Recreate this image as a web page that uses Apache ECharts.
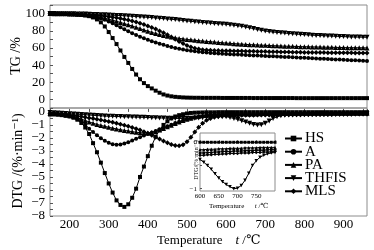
<!DOCTYPE html>
<html><head><meta charset="utf-8">
<script src="https://cdn.jsdelivr.net/npm/echarts@6/dist/echarts.min.js"></script>
<style>html,body{margin:0;padding:0;background:#fff}#c{width:374px;height:250px}</style>
</head><body><div id="c"></div>
<script>
// Temperatures (°C)
var temps = [150,160,170,180,190,200,210,220,230,240,250,260,270,280,290,300,310,320,330,340,350,360,370,380,390,400,410,420,430,440,450,460,470,480,490,500,510,520,530,540,550,
560,570,580,590,600,610,620,630,640,650,660,670,680,690,700,710,720,730,740,750,760,770,780,790,800,810,820,830,840,850,860,870,880,890,900,910,920,930,940,950,960];
var seriesNames = ['HS','A','PA','THFIS','MLS'];
// TG (%)
var tgHS = [100,99.9,99.8,99.7,99.5,99.3,99.1,98.8,98.4,97.9,97.0,95.5,93.2,89.8,85.0,78.5,71.5,64.5,57.0,49.5,42.5,35.5,29.0,23.5,19.0,15.5,12.8,10.2,7.8,5.8,4.5,3.6,3.0,2.6,2.3,2.1,2.0,1.9,1.9,1.8,1.8,
1.8,1.8,1.8,1.7,1.7,1.7,1.7,1.7,1.7,1.7,1.7,1.6,1.6,1.6,1.6,1.6,1.6,1.6,1.6,1.6,1.6,1.6,1.5,1.5,1.5,1.5,1.5,1.5,1.5,1.5,1.5,1.5,1.5,1.5,1.5,1.5,1.5,1.5,1.5,1.5,1.5];
var tgA = [100,99.9,99.8,99.7,99.6,99.5,99.3,99.1,98.8,98.4,97.8,97.0,95.9,94.5,92.8,90.8,88.6,86.3,84.0,81.7,79.4,77.2,75.1,73.1,71.2,69.4,67.8,66.3,64.9,63.6,62.3,61.1,60.0,59.0,58.1,57.3,56.6,56.0,55.5,55.0,54.6,
54.2,53.9,53.6,53.3,53.0,52.7,52.4,52.2,52.0,51.8,51.5,51.3,51.1,50.9,50.6,50.4,50.2,50.0,49.7,49.5,49.3,49.1,48.8,48.6,48.4,48.2,47.9,47.7,47.5,47.3,47.0,46.8,46.6,46.4,46.1,45.9,45.7,45.5,45.2,45.0,44.8];
var tgPA = [100,99.9,99.9,99.8,99.7,99.6,99.4,99.2,98.9,98.5,98.0,97.3,96.5,95.6,94.6,93.5,92.3,91.0,89.7,88.3,86.9,85.5,84.0,82.5,81.0,79.5,78.1,76.8,75.6,74.5,73.5,72.6,71.8,71.1,70.5,69.9,69.4,68.9,68.4,68.0,67.6,
67.2,66.8,66.4,66.0,65.6,65.3,65.0,64.7,64.4,64.1,63.8,63.6,63.4,63.2,63.0,62.8,62.6,62.4,62.2,62.0,61.9,61.8,61.7,61.5,61.4,61.3,61.2,61.1,61.0,60.9,60.8,60.7,60.6,60.5,60.4,60.3,60.3,60.2,60.2,60.1,60.0];
var tgTHFIS = [100,100,99.9,99.9,99.8,99.8,99.7,99.6,99.5,99.4,99.2,99.0,98.8,98.6,98.5,98.3,98.1,97.9,97.7,97.5,97.2,96.9,96.6,96.3,96.0,95.7,95.4,95.0,94.6,94.2,93.8,93.4,93.0,92.5,92.0,91.5,91.0,90.5,90.1,89.7,89.3,
88.9,88.5,88.2,87.9,87.6,87.0,86.5,85.9,85.2,84.4,83.5,82.5,81.5,80.5,79.7,79.0,78.5,78.1,77.7,77.3,76.9,76.5,76.1,75.8,75.5,75.2,74.9,74.6,74.4,74.2,74.0,73.8,73.6,73.4,73.2,73.0,72.8,72.7,72.6,72.5,72.4];
var tgMLS = [100,99.9,99.9,99.8,99.7,99.6,99.5,99.3,99.1,98.9,98.6,98.3,97.9,97.5,97.0,96.4,95.8,95.1,94.3,93.4,92.4,91.3,90.1,88.7,87.2,85.6,83.8,81.9,79.8,77.6,75.2,72.7,70.2,67.6,65.1,62.9,61.1,59.7,58.7,58.0,57.5,
57.2,57.0,56.9,56.8,56.7,56.6,56.5,56.4,56.3,56.2,56.1,56.0,55.9,55.8,55.7,55.6,55.5,55.4,55.3,55.2,55.1,55.0,54.9,54.9,54.8,54.8,54.7,54.7,54.6,54.6,54.5,54.5,54.4,54.4,54.3,54.3,54.3,54.2,54.2,54.2,54.1];
// DTG (%/min)
var dtgHS = [-0.2,-0.2,-0.22,-0.25,-0.3,-0.35,-0.45,-0.6,-0.85,-1.2,-1.7,-2.4,-3.1,-3.9,-4.7,-5.5,-6.2,-6.8,-7.15,-7.3,-7.1,-6.6,-5.9,-5.0,-4.2,-3.4,-2.6,-1.9,-1.4,-1.0,-0.72,-0.5,-0.35,-0.25,-0.18,-0.12,-0.08,-0.06,-0.05,-0.04,-0.03,
-0.03,-0.03,-0.02,-0.02,-0.02,-0.02,-0.02,-0.02,-0.02,-0.02,-0.02,-0.02,-0.02,-0.02,-0.02,-0.02,-0.02,-0.02,-0.02,-0.02,-0.02,-0.02,-0.02,-0.02,-0.02,-0.02,-0.02,-0.02,-0.02,-0.02,-0.02,-0.02,-0.02,-0.02,-0.02,-0.02,-0.02,-0.02,-0.02,-0.02,-0.02];
var dtgA = [-0.15,-0.15,-0.18,-0.22,-0.27,-0.33,-0.4,-0.52,-0.7,-0.95,-1.3,-1.55,-1.8,-2.02,-2.22,-2.38,-2.48,-2.52,-2.5,-2.43,-2.33,-2.2,-2.07,-1.94,-1.82,-1.7,-1.58,-1.46,-1.34,-1.22,-1.1,-0.98,-0.86,-0.75,-0.65,-0.56,-0.48,-0.42,-0.37,-0.33,-0.3,
-0.29,-0.28,-0.27,-0.25,-0.24,-0.24,-0.23,-0.23,-0.22,-0.22,-0.21,-0.21,-0.2,-0.2,-0.2,-0.19,-0.19,-0.19,-0.18,-0.18,-0.18,-0.18,-0.17,-0.17,-0.17,-0.17,-0.16,-0.16,-0.16,-0.16,-0.16,-0.15,-0.15,-0.15,-0.15,-0.15,-0.15,-0.15,-0.15,-0.15,-0.15];
var dtgPA = [-0.1,-0.1,-0.13,-0.17,-0.22,-0.28,-0.36,-0.45,-0.55,-0.66,-0.77,-0.87,-0.96,-1.04,-1.11,-1.18,-1.25,-1.31,-1.37,-1.42,-1.47,-1.52,-1.56,-1.6,-1.62,-1.62,-1.58,-1.5,-1.4,-1.28,-1.15,-1.02,-0.9,-0.78,-0.67,-0.57,-0.48,-0.4,-0.33,-0.27,-0.23,
-0.2,-0.18,-0.17,-0.16,-0.16,-0.16,-0.15,-0.15,-0.15,-0.14,-0.14,-0.14,-0.14,-0.13,-0.13,-0.13,-0.13,-0.12,-0.12,-0.12,-0.12,-0.12,-0.11,-0.11,-0.11,-0.11,-0.11,-0.11,-0.1,-0.1,-0.1,-0.1,-0.1,-0.1,-0.1,-0.1,-0.1,-0.1,-0.1,-0.1,-0.1];
var dtgTHFIS = [-0.05,-0.06,-0.08,-0.1,-0.12,-0.14,-0.16,-0.18,-0.2,-0.22,-0.24,-0.26,-0.28,-0.3,-0.32,-0.33,-0.34,-0.35,-0.36,-0.37,-0.38,-0.39,-0.4,-0.41,-0.42,-0.43,-0.44,-0.45,-0.46,-0.47,-0.48,-0.49,-0.5,-0.5,-0.5,-0.5,-0.49,-0.48,-0.46,-0.44,-0.42,
-0.4,-0.38,-0.37,-0.37,-0.37,-0.43,-0.5,-0.58,-0.68,-0.78,-0.88,-0.96,-1.0,-0.98,-0.88,-0.7,-0.5,-0.38,-0.3,-0.26,-0.24,-0.23,-0.22,-0.22,-0.21,-0.21,-0.2,-0.2,-0.2,-0.19,-0.19,-0.19,-0.18,-0.18,-0.18,-0.18,-0.17,-0.17,-0.17,-0.17,-0.17];
var dtgMLS = [-0.12,-0.13,-0.15,-0.17,-0.2,-0.23,-0.27,-0.31,-0.36,-0.41,-0.46,-0.51,-0.56,-0.62,-0.68,-0.74,-0.8,-0.87,-0.94,-1.02,-1.1,-1.19,-1.29,-1.4,-1.52,-1.65,-1.79,-1.94,-2.09,-2.24,-2.38,-2.5,-2.58,-2.6,-2.52,-2.3,-1.95,-1.55,-1.18,-0.88,-0.65,
-0.5,-0.41,-0.35,-0.31,-0.28,-0.28,-0.27,-0.27,-0.26,-0.26,-0.25,-0.25,-0.24,-0.24,-0.24,-0.23,-0.23,-0.23,-0.22,-0.22,-0.22,-0.21,-0.21,-0.21,-0.2,-0.2,-0.2,-0.2,-0.19,-0.19,-0.19,-0.19,-0.18,-0.18,-0.18,-0.18,-0.18,-0.17,-0.17,-0.17,-0.17];
// Inset DTG (600–800 °C)
var insetTemps = [600,610,620,630,640,650,660,670,680,690,700,710,720,730,740,750,760,770,780,790,800];
var inHS = [0,0,0,0,0,0,0,0,0,0,0,0,0,0,0,0,0,0,0,0,0];
var inA = [-0.23,-0.23,-0.22,-0.22,-0.21,-0.21,-0.2,-0.2,-0.2,-0.19,-0.19,-0.19,-0.18,-0.18,-0.18,-0.17,-0.17,-0.17,-0.16,-0.16,-0.16];
var inPA = [-0.16,-0.16,-0.15,-0.15,-0.15,-0.14,-0.14,-0.14,-0.13,-0.13,-0.13,-0.13,-0.12,-0.12,-0.12,-0.12,-0.11,-0.11,-0.11,-0.11,-0.11];
var inTHFIS = [-0.37,-0.43,-0.5,-0.58,-0.68,-0.77,-0.85,-0.91,-0.96,-1.0,-0.99,-0.93,-0.82,-0.67,-0.5,-0.4,-0.32,-0.28,-0.25,-0.23,-0.22];
var inMLS = [-0.28,-0.28,-0.27,-0.27,-0.26,-0.26,-0.25,-0.25,-0.24,-0.24,-0.24,-0.23,-0.23,-0.23,-0.22,-0.22,-0.22,-0.21,-0.21,-0.21,-0.2];

var FONT = '"Liberation Serif","DejaVu Serif",serif';
var FRAME = '#8c8c8c';
var TRI_DOWN = 'path://M0,0 L10,0 L5,9 Z';
var symbols = {HS:'rect', A:'circle', PA:'triangle', THFIS:TRI_DOWN, MLS:'diamond'};
var sizes = {HS:4, A:4, PA:5, THFIS:5, MLS:5};
var inSizes = {HS:3, A:3, PA:3.5, THFIS:3.5, MLS:3.5};

function pairs(xs, ys){ var out=[]; for(var i=0;i<xs.length;i++) out.push([xs[i], ys[i]]); return out; }
function mk(name, xs, ys, xi, yi, sz){
  return {name:name, type:'line', xAxisIndex:xi, yAxisIndex:yi, data:pairs(xs,ys),
    symbol:symbols[name], symbolSize:sz[name], showSymbol:true, showAllSymbol:true,
    lineStyle:{color:'#000', width:1}, itemStyle:{color:'#000'}, silent:true, z:3};
}
var tgSets = {HS:tgHS, A:tgA, PA:tgPA, THFIS:tgTHFIS, MLS:tgMLS};
var dtgSets = {HS:dtgHS, A:dtgA, PA:dtgPA, THFIS:dtgTHFIS, MLS:dtgMLS};
var inSets = {HS:inHS, A:inA, PA:inPA, THFIS:inTHFIS, MLS:inMLS};
var series = [];
seriesNames.forEach(function(n){ series.push(mk(n, temps, tgSets[n], 0, 0, sizes)); });
seriesNames.forEach(function(n){ series.push(mk(n, temps, dtgSets[n], 1, 1, sizes)); });
seriesNames.forEach(function(n){ var s = mk(n, insetTemps, inSets[n], 2, 2, inSizes); s.z = 12; series.push(s); });

function minus(v){ return String(v).replace('-', '\u2212'); }
var tickStyle = {show:true, inside:true, length:3, lineStyle:{color:'#555', width:1}};
var lblBase = {color:'#000', fontFamily:FONT, fontSize:13};

var legends = seriesNames.map(function(n, i){
  return {data:[n], orient:'vertical', left:284, top:131 + i*13.2, itemWidth:17, itemHeight:7, itemGap:0,
    selectedMode:false, textStyle:{fontFamily:FONT, fontSize:15, color:'#000', padding:[0,0,0,-2]}, padding:0};
});

var option = {
  animation:false,
  backgroundColor:'#fff',
  legend: legends,
  grid:[
    {left:50, top:5, width:317, height:103, show:true, borderColor:FRAME, borderWidth:1, backgroundColor:'transparent'},
    {left:50, top:108, width:317, height:108, show:true, borderColor:FRAME, borderWidth:1, backgroundColor:'transparent'},
    {left:200, top:133, width:75, height:58, show:true, borderColor:FRAME, borderWidth:1, backgroundColor:'#fff', z:10}
  ],
  xAxis:[
    {gridIndex:0, type:'value', min:150, max:960, interval:50, axisLine:{show:false}, axisTick:{show:false}, axisLabel:{show:false}, splitLine:{show:false}},
    {gridIndex:1, type:'value', min:150, max:960, interval:50, axisLine:{show:false}, axisTick:tickStyle,
      axisLabel:Object.assign({}, lblBase, {margin:2, formatter:function(v){ return v%100===0 ? String(v) : ''; }}), splitLine:{show:false}},
    {gridIndex:2, type:'value', min:600, max:800, interval:50, z:11, axisLine:{show:false}, axisTick:{show:true, inside:true, length:2, lineStyle:{color:'#555'}},
      axisLabel:{color:'#000', fontFamily:FONT, fontSize:7, margin:2, formatter:function(v){ return v<800 ? String(v) : ''; }}, splitLine:{show:false}}
  ],
  yAxis:[
    {gridIndex:0, type:'value', min:-10, max:110, interval:10, axisLine:{show:false}, axisTick:tickStyle,
      axisLabel:Object.assign({}, lblBase, {margin:5, formatter:function(v){ return (v%20===0 && v>=0 && v<=100) ? String(v) : ''; }}), splitLine:{show:false}},
    {gridIndex:1, type:'value', min:-8, max:0.3, interval:0.5, axisLine:{show:false}, axisTick:tickStyle,
      axisLabel:Object.assign({}, lblBase, {margin:5, formatter:function(v){ return Number.isInteger(v) ? minus(v) : ''; }}), splitLine:{show:false}},
    {gridIndex:2, type:'value', min:-1.05, max:0.2, z:11, axisLine:{show:false},
      axisTick:{show:true, inside:true, length:2, lineStyle:{color:'#555'}, customValues:[-1,-0.5,0]},
      axisLabel:{color:'#000', fontFamily:FONT, fontSize:7, margin:3, customValues:[-1,0], formatter:function(v){ return minus(v); }}, splitLine:{show:false}}
  ],
  graphic:[
    {type:'text', x:16, y:56, rotation:Math.PI/2, style:{text:'TG /%', fontFamily:FONT, fontSize:14, fill:'#000', align:'center', verticalAlign:'middle'}},
    {type:'text', x:18, y:161, rotation:Math.PI/2, style:{text:'DTG /(%\u00b7min\u207b\u00b9)', fontFamily:FONT, fontSize:14, fill:'#000', align:'center', verticalAlign:'middle'}},
    {type:'text', x:157, y:241, style:{text:'Temperature    {i|t} /\u2103', fontFamily:FONT, fontSize:13, fill:'#000', verticalAlign:'middle',
      rich:{i:{fontStyle:'italic', fontFamily:FONT, fontSize:13}}}},
    {type:'text', x:196, y:160, rotation:Math.PI/2, z:20, style:{text:'DTG/(%\u00b7min\u207b\u00b9)', fontFamily:FONT, fontSize:6, fill:'#000', align:'center', verticalAlign:'middle'}},
    {type:'text', x:209, y:206, z:20, style:{text:'Temperature      {i|t} /\u2103', fontFamily:FONT, fontSize:7, fill:'#000', verticalAlign:'middle',
      rich:{i:{fontStyle:'italic', fontFamily:FONT, fontSize:7}}}}
  ],
  series: series
};
var chart = echarts.init(document.getElementById('c'), null, {renderer:'canvas'});
chart.setOption(option);
</script>
</body></html>
